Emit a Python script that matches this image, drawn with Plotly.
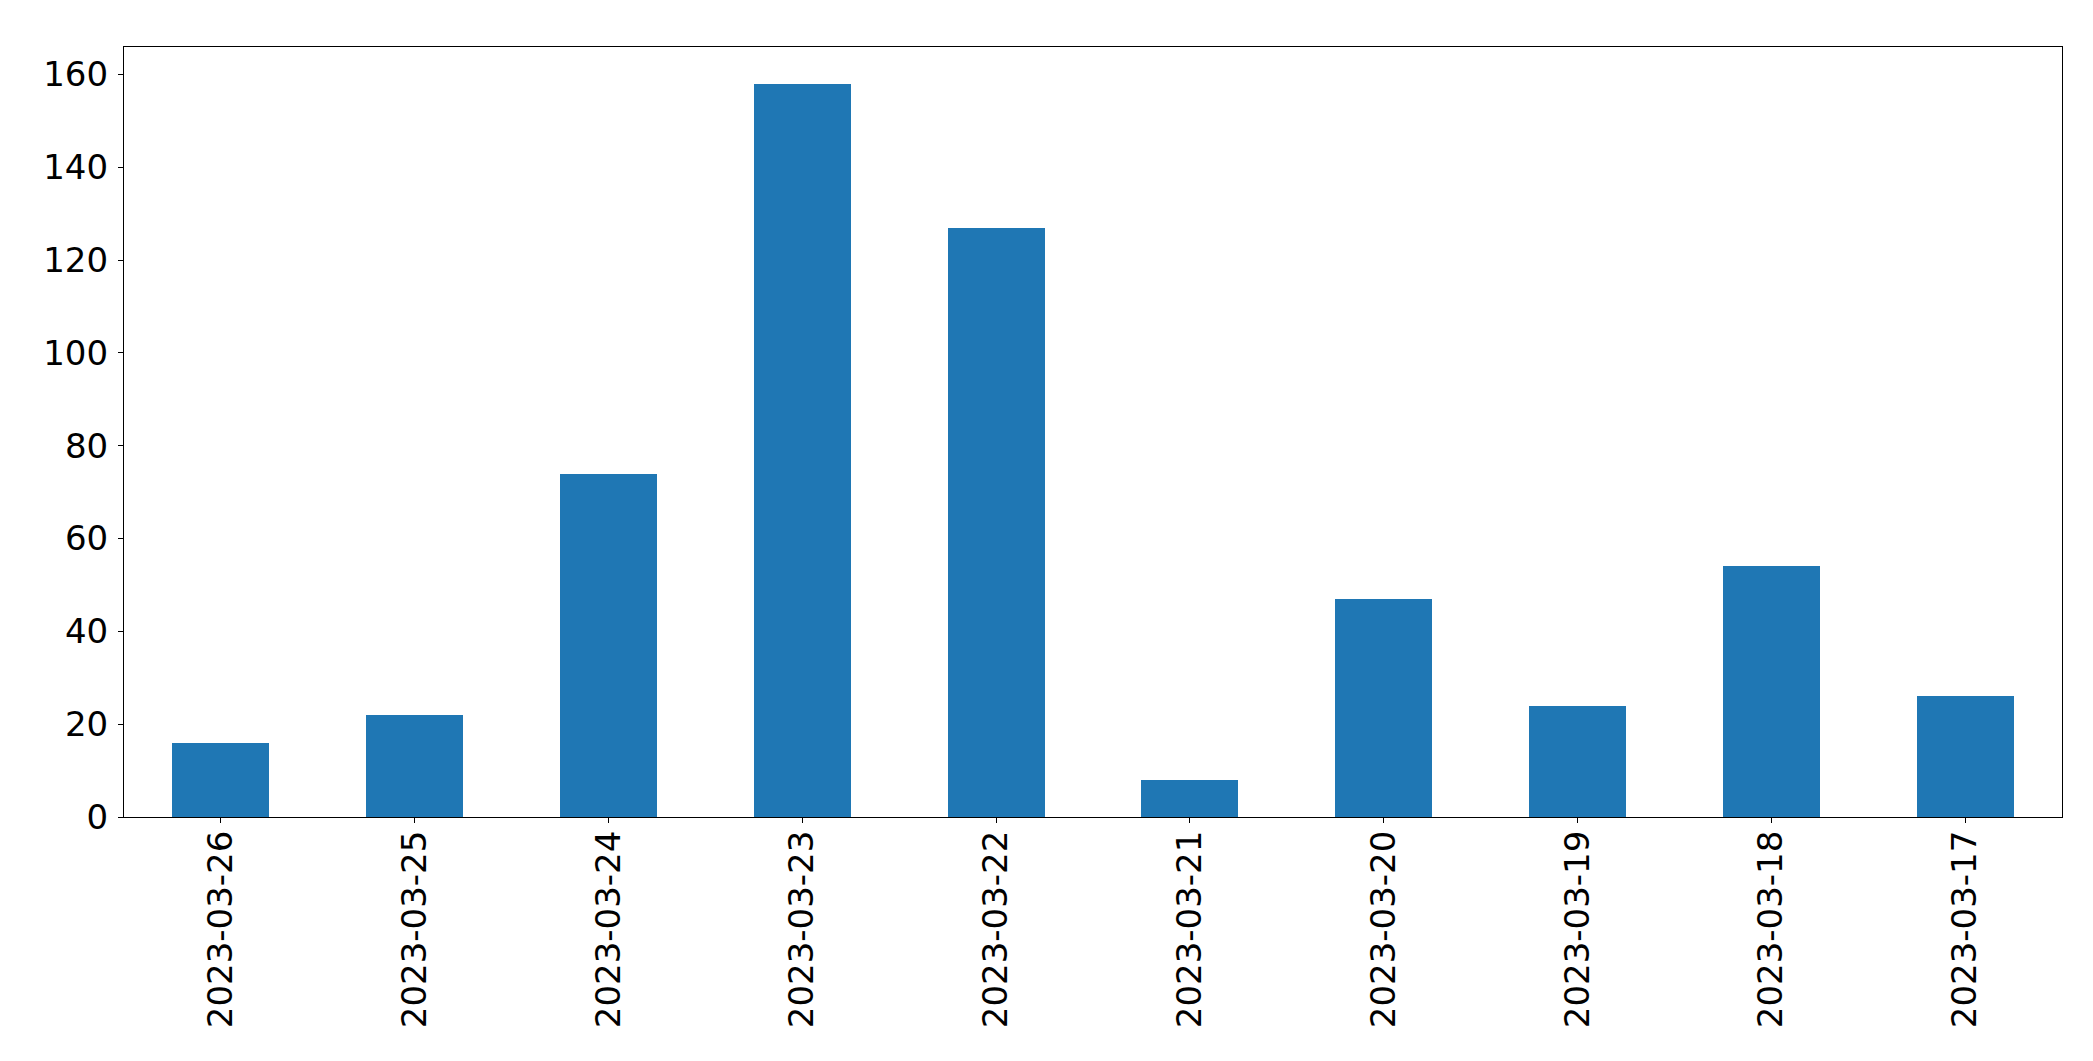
import plotly.graph_objects as go

dates = ["2023-03-26", "2023-03-25", "2023-03-24", "2023-03-23", "2023-03-22",
         "2023-03-21", "2023-03-20", "2023-03-19", "2023-03-18", "2023-03-17"]
counts = [16, 22, 74, 158, 127, 8, 47, 24, 54, 26]
y_ticks = [0, 20, 40, 60, 80, 100, 120, 140, 160]

fig = go.Figure(go.Bar(x=dates, y=counts, width=0.5, marker=dict(color="#1f77b4", line=dict(width=0))))

font = dict(family="DejaVu Sans", size=34, color="black")
fig.update_layout(
    width=2093, height=1061,
    margin=dict(l=116, r=39, t=39, b=252),
    plot_bgcolor="white", paper_bgcolor="white",
    showlegend=False, bargap=0,
    font=font,
)
fig.update_xaxes(
    type="category", range=[-0.5, len(dates) - 0.5],
    tickangle=-90, ticks="outside", ticklen=5, tickwidth=1.1, tickcolor="black",
    showline=True, linecolor="black", linewidth=1.1, mirror=True,
    showgrid=False, zeroline=False, tickfont=font, ticklabelstandoff=-6,
)
fig.update_yaxes(
    range=[0, max(counts) * 1.05], tickvals=y_ticks,
    ticks="outside", ticklen=5, tickwidth=1.1, tickcolor="black",
    showline=True, linecolor="black", linewidth=1.1, mirror=True,
    showgrid=False, zeroline=False, tickfont=font, ticklabelstandoff=3,
)
fig.write_html("out.html")
